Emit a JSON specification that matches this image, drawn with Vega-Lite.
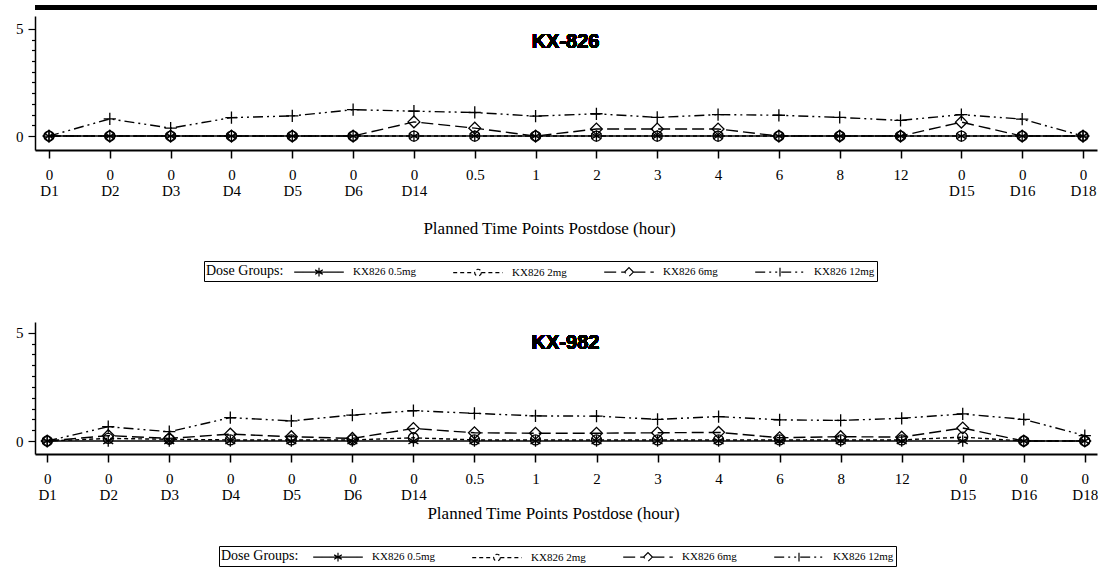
{
  "$schema": "https://vega.github.io/schema/vega-lite/v6.json",
  "background": "white",
  "padding": {"left": 0, "top": 5, "right": 0, "bottom": 0},
  "spacing": 40,
  "data": {
    "values": [
      {"p": "KX-826", "g": "KX826 0.5mg", "t": "0|D1", "v": 0},
      {"p": "KX-826", "g": "KX826 0.5mg", "t": "0|D2", "v": 0},
      {"p": "KX-826", "g": "KX826 0.5mg", "t": "0|D3", "v": 0},
      {"p": "KX-826", "g": "KX826 0.5mg", "t": "0|D4", "v": 0},
      {"p": "KX-826", "g": "KX826 0.5mg", "t": "0|D5", "v": 0},
      {"p": "KX-826", "g": "KX826 0.5mg", "t": "0|D6", "v": 0},
      {"p": "KX-826", "g": "KX826 0.5mg", "t": "0|D14", "v": 0},
      {"p": "KX-826", "g": "KX826 0.5mg", "t": "0.5", "v": 0},
      {"p": "KX-826", "g": "KX826 0.5mg", "t": "1", "v": 0},
      {"p": "KX-826", "g": "KX826 0.5mg", "t": "2", "v": 0},
      {"p": "KX-826", "g": "KX826 0.5mg", "t": "3", "v": 0},
      {"p": "KX-826", "g": "KX826 0.5mg", "t": "4", "v": 0},
      {"p": "KX-826", "g": "KX826 0.5mg", "t": "6", "v": 0},
      {"p": "KX-826", "g": "KX826 0.5mg", "t": "8", "v": 0},
      {"p": "KX-826", "g": "KX826 0.5mg", "t": "12", "v": 0},
      {"p": "KX-826", "g": "KX826 0.5mg", "t": "0|D15", "v": 0},
      {"p": "KX-826", "g": "KX826 0.5mg", "t": "0|D16", "v": 0},
      {"p": "KX-826", "g": "KX826 0.5mg", "t": "0|D18", "v": 0},
      {"p": "KX-826", "g": "KX826 2mg", "t": "0|D1", "v": 0},
      {"p": "KX-826", "g": "KX826 2mg", "t": "0|D2", "v": 0},
      {"p": "KX-826", "g": "KX826 2mg", "t": "0|D3", "v": 0},
      {"p": "KX-826", "g": "KX826 2mg", "t": "0|D4", "v": 0},
      {"p": "KX-826", "g": "KX826 2mg", "t": "0|D5", "v": 0},
      {"p": "KX-826", "g": "KX826 2mg", "t": "0|D6", "v": 0},
      {"p": "KX-826", "g": "KX826 2mg", "t": "0|D14", "v": 0},
      {"p": "KX-826", "g": "KX826 2mg", "t": "0.5", "v": 0},
      {"p": "KX-826", "g": "KX826 2mg", "t": "1", "v": 0},
      {"p": "KX-826", "g": "KX826 2mg", "t": "2", "v": 0},
      {"p": "KX-826", "g": "KX826 2mg", "t": "3", "v": 0},
      {"p": "KX-826", "g": "KX826 2mg", "t": "4", "v": 0},
      {"p": "KX-826", "g": "KX826 2mg", "t": "6", "v": 0},
      {"p": "KX-826", "g": "KX826 2mg", "t": "8", "v": 0},
      {"p": "KX-826", "g": "KX826 2mg", "t": "12", "v": 0},
      {"p": "KX-826", "g": "KX826 2mg", "t": "0|D15", "v": 0},
      {"p": "KX-826", "g": "KX826 2mg", "t": "0|D16", "v": 0},
      {"p": "KX-826", "g": "KX826 2mg", "t": "0|D18", "v": 0},
      {"p": "KX-826", "g": "KX826 6mg", "t": "0|D1", "v": 0},
      {"p": "KX-826", "g": "KX826 6mg", "t": "0|D2", "v": 0},
      {"p": "KX-826", "g": "KX826 6mg", "t": "0|D3", "v": 0},
      {"p": "KX-826", "g": "KX826 6mg", "t": "0|D4", "v": 0},
      {"p": "KX-826", "g": "KX826 6mg", "t": "0|D5", "v": 0},
      {"p": "KX-826", "g": "KX826 6mg", "t": "0|D6", "v": 0},
      {"p": "KX-826", "g": "KX826 6mg", "t": "0|D14", "v": 0.66},
      {"p": "KX-826", "g": "KX826 6mg", "t": "0.5", "v": 0.37},
      {"p": "KX-826", "g": "KX826 6mg", "t": "1", "v": 0},
      {"p": "KX-826", "g": "KX826 6mg", "t": "2", "v": 0.33},
      {"p": "KX-826", "g": "KX826 6mg", "t": "3", "v": 0.33},
      {"p": "KX-826", "g": "KX826 6mg", "t": "4", "v": 0.33},
      {"p": "KX-826", "g": "KX826 6mg", "t": "6", "v": 0},
      {"p": "KX-826", "g": "KX826 6mg", "t": "8", "v": 0},
      {"p": "KX-826", "g": "KX826 6mg", "t": "12", "v": 0},
      {"p": "KX-826", "g": "KX826 6mg", "t": "0|D15", "v": 0.65},
      {"p": "KX-826", "g": "KX826 6mg", "t": "0|D16", "v": 0},
      {"p": "KX-826", "g": "KX826 6mg", "t": "0|D18", "v": 0},
      {"p": "KX-826", "g": "KX826 12mg", "t": "0|D1", "v": 0},
      {"p": "KX-826", "g": "KX826 12mg", "t": "0|D2", "v": 0.8},
      {"p": "KX-826", "g": "KX826 12mg", "t": "0|D3", "v": 0.37},
      {"p": "KX-826", "g": "KX826 12mg", "t": "0|D4", "v": 0.86},
      {"p": "KX-826", "g": "KX826 12mg", "t": "0|D5", "v": 0.94},
      {"p": "KX-826", "g": "KX826 12mg", "t": "0|D6", "v": 1.23},
      {"p": "KX-826", "g": "KX826 12mg", "t": "0|D14", "v": 1.16},
      {"p": "KX-826", "g": "KX826 12mg", "t": "0.5", "v": 1.1},
      {"p": "KX-826", "g": "KX826 12mg", "t": "1", "v": 0.93},
      {"p": "KX-826", "g": "KX826 12mg", "t": "2", "v": 1.04},
      {"p": "KX-826", "g": "KX826 12mg", "t": "3", "v": 0.87},
      {"p": "KX-826", "g": "KX826 12mg", "t": "4", "v": 1.0},
      {"p": "KX-826", "g": "KX826 12mg", "t": "6", "v": 0.97},
      {"p": "KX-826", "g": "KX826 12mg", "t": "8", "v": 0.87},
      {"p": "KX-826", "g": "KX826 12mg", "t": "12", "v": 0.73},
      {"p": "KX-826", "g": "KX826 12mg", "t": "0|D15", "v": 1.0},
      {"p": "KX-826", "g": "KX826 12mg", "t": "0|D16", "v": 0.79},
      {"p": "KX-826", "g": "KX826 12mg", "t": "0|D18", "v": 0},
      {"p": "KX-982", "g": "KX826 0.5mg", "t": "0|D1", "v": 0},
      {"p": "KX-982", "g": "KX826 0.5mg", "t": "0|D2", "v": 0},
      {"p": "KX-982", "g": "KX826 0.5mg", "t": "0|D3", "v": 0},
      {"p": "KX-982", "g": "KX826 0.5mg", "t": "0|D4", "v": 0},
      {"p": "KX-982", "g": "KX826 0.5mg", "t": "0|D5", "v": 0},
      {"p": "KX-982", "g": "KX826 0.5mg", "t": "0|D6", "v": 0},
      {"p": "KX-982", "g": "KX826 0.5mg", "t": "0|D14", "v": 0},
      {"p": "KX-982", "g": "KX826 0.5mg", "t": "0.5", "v": 0},
      {"p": "KX-982", "g": "KX826 0.5mg", "t": "1", "v": 0},
      {"p": "KX-982", "g": "KX826 0.5mg", "t": "2", "v": 0},
      {"p": "KX-982", "g": "KX826 0.5mg", "t": "3", "v": 0},
      {"p": "KX-982", "g": "KX826 0.5mg", "t": "4", "v": 0},
      {"p": "KX-982", "g": "KX826 0.5mg", "t": "6", "v": 0},
      {"p": "KX-982", "g": "KX826 0.5mg", "t": "8", "v": 0},
      {"p": "KX-982", "g": "KX826 0.5mg", "t": "12", "v": 0},
      {"p": "KX-982", "g": "KX826 0.5mg", "t": "0|D15", "v": 0},
      {"p": "KX-982", "g": "KX826 0.5mg", "t": "0|D16", "v": 0},
      {"p": "KX-982", "g": "KX826 0.5mg", "t": "0|D18", "v": 0},
      {"p": "KX-982", "g": "KX826 2mg", "t": "0|D1", "v": 0},
      {"p": "KX-982", "g": "KX826 2mg", "t": "0|D2", "v": 0.12},
      {"p": "KX-982", "g": "KX826 2mg", "t": "0|D3", "v": 0.08},
      {"p": "KX-982", "g": "KX826 2mg", "t": "0|D4", "v": 0.05},
      {"p": "KX-982", "g": "KX826 2mg", "t": "0|D5", "v": 0.05},
      {"p": "KX-982", "g": "KX826 2mg", "t": "0|D6", "v": 0.05},
      {"p": "KX-982", "g": "KX826 2mg", "t": "0|D14", "v": 0.15},
      {"p": "KX-982", "g": "KX826 2mg", "t": "0.5", "v": 0.05},
      {"p": "KX-982", "g": "KX826 2mg", "t": "1", "v": 0.05},
      {"p": "KX-982", "g": "KX826 2mg", "t": "2", "v": 0.05},
      {"p": "KX-982", "g": "KX826 2mg", "t": "3", "v": 0.05},
      {"p": "KX-982", "g": "KX826 2mg", "t": "4", "v": 0.05},
      {"p": "KX-982", "g": "KX826 2mg", "t": "6", "v": 0.05},
      {"p": "KX-982", "g": "KX826 2mg", "t": "8", "v": 0.05},
      {"p": "KX-982", "g": "KX826 2mg", "t": "12", "v": 0.05},
      {"p": "KX-982", "g": "KX826 2mg", "t": "0|D15", "v": 0.18},
      {"p": "KX-982", "g": "KX826 2mg", "t": "0|D16", "v": 0},
      {"p": "KX-982", "g": "KX826 2mg", "t": "0|D18", "v": 0},
      {"p": "KX-982", "g": "KX826 6mg", "t": "0|D1", "v": 0},
      {"p": "KX-982", "g": "KX826 6mg", "t": "0|D2", "v": 0.25},
      {"p": "KX-982", "g": "KX826 6mg", "t": "0|D3", "v": 0.12},
      {"p": "KX-982", "g": "KX826 6mg", "t": "0|D4", "v": 0.32},
      {"p": "KX-982", "g": "KX826 6mg", "t": "0|D5", "v": 0.2},
      {"p": "KX-982", "g": "KX826 6mg", "t": "0|D6", "v": 0.12},
      {"p": "KX-982", "g": "KX826 6mg", "t": "0|D14", "v": 0.58},
      {"p": "KX-982", "g": "KX826 6mg", "t": "0.5", "v": 0.38},
      {"p": "KX-982", "g": "KX826 6mg", "t": "1", "v": 0.36},
      {"p": "KX-982", "g": "KX826 6mg", "t": "2", "v": 0.36},
      {"p": "KX-982", "g": "KX826 6mg", "t": "3", "v": 0.38},
      {"p": "KX-982", "g": "KX826 6mg", "t": "4", "v": 0.4},
      {"p": "KX-982", "g": "KX826 6mg", "t": "6", "v": 0.15},
      {"p": "KX-982", "g": "KX826 6mg", "t": "8", "v": 0.2},
      {"p": "KX-982", "g": "KX826 6mg", "t": "12", "v": 0.18},
      {"p": "KX-982", "g": "KX826 6mg", "t": "0|D15", "v": 0.6},
      {"p": "KX-982", "g": "KX826 6mg", "t": "0|D16", "v": 0},
      {"p": "KX-982", "g": "KX826 6mg", "t": "0|D18", "v": 0},
      {"p": "KX-982", "g": "KX826 12mg", "t": "0|D1", "v": 0},
      {"p": "KX-982", "g": "KX826 12mg", "t": "0|D2", "v": 0.66},
      {"p": "KX-982", "g": "KX826 12mg", "t": "0|D3", "v": 0.43},
      {"p": "KX-982", "g": "KX826 12mg", "t": "0|D4", "v": 1.08},
      {"p": "KX-982", "g": "KX826 12mg", "t": "0|D5", "v": 0.93},
      {"p": "KX-982", "g": "KX826 12mg", "t": "0|D6", "v": 1.2},
      {"p": "KX-982", "g": "KX826 12mg", "t": "0|D14", "v": 1.4},
      {"p": "KX-982", "g": "KX826 12mg", "t": "0.5", "v": 1.28},
      {"p": "KX-982", "g": "KX826 12mg", "t": "1", "v": 1.16},
      {"p": "KX-982", "g": "KX826 12mg", "t": "2", "v": 1.15},
      {"p": "KX-982", "g": "KX826 12mg", "t": "3", "v": 1.0},
      {"p": "KX-982", "g": "KX826 12mg", "t": "4", "v": 1.13},
      {"p": "KX-982", "g": "KX826 12mg", "t": "6", "v": 0.98},
      {"p": "KX-982", "g": "KX826 12mg", "t": "8", "v": 0.95},
      {"p": "KX-982", "g": "KX826 12mg", "t": "12", "v": 1.05},
      {"p": "KX-982", "g": "KX826 12mg", "t": "0|D15", "v": 1.25},
      {"p": "KX-982", "g": "KX826 12mg", "t": "0|D16", "v": 1.0},
      {"p": "KX-982", "g": "KX826 12mg", "t": "0|D18", "v": 0.25}
    ]
  },
  "vconcat": [
    {
      "width": 1062,
      "height": 134,
      "transform": [{"filter": "datum.p === 'KX-826'"}],
      "layer": [
        {
          "encoding": {
            "x": {"field": "t", "type": "ordinal", "sort": null,
              "scale": {"type": "point", "padding": 0.23, "domain": ["0|D1","0|D2","0|D3","0|D4","0|D5","0|D6","0|D14","0.5","1","2","3","4","6","8","12","0|D15","0|D16","0|D18"]},
              "axis": {"title": "Planned Time Points Postdose (hour)", "labelExpr": "split(datum.value, '|')", "labelAngle": 0, "labelFont": "Liberation Serif", "labelFontSize": 15, "labelLineHeight": 16, "labelPadding": 9, "tickSize": 8, "tickWidth": 1.5, "domainWidth": 2, "titleFont": "Liberation Serif", "titleFontSize": 17, "titleFontWeight": "normal", "titlePadding": 22, "titleX": 514}},
            "y": {"field": "v", "type": "quantitative",
              "scale": {"domain": [-0.65, 5.6], "nice": false, "zero": false},
              "axis": {"title": null, "values": [0,0.5,1,1.5,2,2.5,3,3.5,4,4.5,5], "labelExpr": "datum.value % 5 === 0 ? format(datum.value, 'd') : ''", "tickSize": {"condition": {"test": "datum.value % 5 === 0", "value": 7}, "value": 3.5}, "labelFont": "Liberation Serif", "labelFontSize": 15, "labelPadding": 5, "domainWidth": 1.5, "tickWidth": 1.2, "minExtent": 35, "maxExtent": 35}}
          },
          "layer": [
            {
              "mark": {"type": "line", "color": "black", "strokeWidth": 1.4},
              "encoding": {
                "strokeDash": {"field": "g", "type": "nominal",
                  "scale": {"domain": ["KX826 0.5mg", "KX826 2mg", "KX826 6mg", "KX826 12mg"], "range": [[1, 0], [4, 3], [12, 5], [10, 4, 2, 4, 2, 4]]},
                  "legend": {"title": "Dose Groups:", "orient": "none", "legendX": 169, "legendY": 245, "direction": "horizontal", "titleOrient": "left", "titleAnchor": "middle", "titleFont": "Liberation Serif", "titleFontSize": 14, "titleFontWeight": "normal", "titleColor": "black", "titlePadding": 26, "labelFont": "Liberation Serif", "labelFontSize": 11, "labelColor": "black", "strokeColor": "black", "padding": 2, "columnPadding": 34, "symbolSize": 256, "labelOffset": 25, "symbolStrokeWidth": 1.2, "symbolStrokeColor": "black"}}
              }
            },
            {
              "transform": [{"filter": "false"}],
              "mark": {"type": "point", "filled": false, "color": "black", "strokeWidth": 1.2, "opacity": 1},
              "encoding": {
                "shape": {"field": "g", "type": "nominal",
                  "scale": {"domain": ["KX826 0.5mg", "KX826 2mg", "KX826 6mg", "KX826 12mg"], "range": ["M-3.1,0H3.1M0,-0.55V0.55M-0.48,-0.28L0.48,0.28M-0.48,0.28L0.48,-0.28", "M-3.1,0H-0.42M0.42,0H3.1M0.42,0A0.42,0.42 0 1 1 -0.42,0A0.42,0.42 0 1 1 0.42,0", "M-3.1,0H-0.55M0.55,0H3.1M0,-0.55L0.55,0L0,0.55L-0.55,0Z", "M-3.1,0H3.1M0,-0.55V0.55"]},
                  "legend": {"title": "Dose Groups:", "orient": "none", "legendX": 169, "legendY": 245, "direction": "horizontal", "titleOrient": "left", "titleAnchor": "middle", "titleFont": "Liberation Serif", "titleFontSize": 14, "titleFontWeight": "normal", "titleColor": "black", "titlePadding": 26, "labelFont": "Liberation Serif", "labelFontSize": 11, "labelColor": "black", "strokeColor": "black", "padding": 2, "columnPadding": 34, "symbolSize": 256, "labelOffset": 25, "symbolStrokeWidth": 1.2, "symbolStrokeColor": "black"}}
              }
            },
            {"transform": [{"filter": "datum.g === 'KX826 0.5mg'"}], "mark": {"type": "point", "filled": false, "color": "black", "size": 130, "strokeWidth": 1.3, "opacity": 1, "shape": "M0,-1V1M-0.87,-0.5L0.87,0.5M-0.87,0.5L0.87,-0.5"}},
            {"transform": [{"filter": "datum.g === 'KX826 2mg'"}], "mark": {"type": "point", "filled": false, "color": "black", "size": 100, "strokeWidth": 1.3, "opacity": 1, "shape": "circle"}},
            {"transform": [{"filter": "datum.g === 'KX826 6mg'"}], "mark": {"type": "point", "filled": false, "color": "black", "size": 140, "strokeWidth": 1.3, "opacity": 1, "shape": "diamond"}},
            {"transform": [{"filter": "datum.g === 'KX826 12mg'"}], "mark": {"type": "point", "filled": false, "color": "black", "size": 150, "strokeWidth": 1.3, "opacity": 1, "shape": "M-1,0H1M0,-1V1"}},
            {"mark": {"type": "text", "text": "KX-826", "font": "Liberation Sans", "fontSize": 20, "fontWeight": "bold", "color": "black", "dx": 30, "baseline": "middle"},
             "encoding": {"x": {"datum": "1"}, "y": {"datum": 4.4}}}
          ]
        },
        {
          "mark": {"type": "rule", "color": "black", "strokeWidth": 4},
          "encoding": {"y": {"datum": 6.0, "type": "quantitative",
            "axis": {"title": null, "values": [0,0.5,1,1.5,2,2.5,3,3.5,4,4.5,5], "labelExpr": "datum.value % 5 === 0 ? format(datum.value, 'd') : ''", "tickSize": {"condition": {"test": "datum.value % 5 === 0", "value": 7}, "value": 3.5}, "labelFont": "Liberation Serif", "labelFontSize": 15, "labelPadding": 5, "domainWidth": 1.5, "tickWidth": 1.2, "minExtent": 35, "maxExtent": 35}}}
        }
      ]
    },
    {
      "width": 1062,
      "height": 132,
      "transform": [{"filter": "datum.p === 'KX-982'"}],
      "encoding": {
        "x": {"field": "t", "type": "ordinal", "sort": null,
          "scale": {"type": "point", "padding": 0.2, "domain": ["0|D1","0|D2","0|D3","0|D4","0|D5","0|D6","0|D14","0.5","1","2","3","4","6","8","12","0|D15","0|D16","0|D18"]},
          "axis": {"title": "Planned Time Points Postdose (hour)", "labelExpr": "split(datum.value, '|')", "labelAngle": 0, "labelFont": "Liberation Serif", "labelFontSize": 15, "labelLineHeight": 16, "labelPadding": 9, "tickSize": 8, "tickWidth": 1.5, "domainWidth": 2, "titleFont": "Liberation Serif", "titleFontSize": 17, "titleFontWeight": "normal", "titlePadding": 3, "titleX": 518}},
        "y": {"field": "v", "type": "quantitative",
          "scale": {"domain": [-0.6, 5.5], "nice": false, "zero": false},
          "axis": {"title": null, "values": [0,0.5,1,1.5,2,2.5,3,3.5,4,4.5,5], "labelExpr": "datum.value % 5 === 0 ? format(datum.value, 'd') : ''", "tickSize": {"condition": {"test": "datum.value % 5 === 0", "value": 7}, "value": 3.5}, "labelFont": "Liberation Serif", "labelFontSize": 15, "labelPadding": 5, "domainWidth": 1.5, "tickWidth": 1.2, "minExtent": 31, "maxExtent": 31}}
      },
      "layer": [
        {
          "mark": {"type": "line", "color": "black", "strokeWidth": 1.4},
          "encoding": {
            "strokeDash": {"field": "g", "type": "nominal",
              "scale": {"domain": ["KX826 0.5mg", "KX826 2mg", "KX826 6mg", "KX826 12mg"], "range": [[1, 0], [4, 3], [12, 5], [10, 4, 2, 4, 2, 4]]},
              "legend": {"title": "Dose Groups:", "orient": "none", "legendX": 184, "legendY": 224, "direction": "horizontal", "titleOrient": "left", "titleAnchor": "middle", "titleFont": "Liberation Serif", "titleFontSize": 14, "titleFontWeight": "normal", "titleColor": "black", "titlePadding": 30, "labelFont": "Liberation Serif", "labelFontSize": 11, "labelColor": "black", "strokeColor": "black", "padding": 2, "columnPadding": 34, "symbolSize": 256, "labelOffset": 25, "symbolStrokeWidth": 1.2, "symbolStrokeColor": "black"}}
          }
        },
        {
          "transform": [{"filter": "false"}],
          "mark": {"type": "point", "filled": false, "color": "black", "strokeWidth": 1.2, "opacity": 1},
          "encoding": {
            "shape": {"field": "g", "type": "nominal",
              "scale": {"domain": ["KX826 0.5mg", "KX826 2mg", "KX826 6mg", "KX826 12mg"], "range": ["M-3.1,0H3.1M0,-0.55V0.55M-0.48,-0.28L0.48,0.28M-0.48,0.28L0.48,-0.28", "M-3.1,0H-0.42M0.42,0H3.1M0.42,0A0.42,0.42 0 1 1 -0.42,0A0.42,0.42 0 1 1 0.42,0", "M-3.1,0H-0.55M0.55,0H3.1M0,-0.55L0.55,0L0,0.55L-0.55,0Z", "M-3.1,0H3.1M0,-0.55V0.55"]},
              "legend": {"title": "Dose Groups:", "orient": "none", "legendX": 184, "legendY": 224, "direction": "horizontal", "titleOrient": "left", "titleAnchor": "middle", "titleFont": "Liberation Serif", "titleFontSize": 14, "titleFontWeight": "normal", "titleColor": "black", "titlePadding": 30, "labelFont": "Liberation Serif", "labelFontSize": 11, "labelColor": "black", "strokeColor": "black", "padding": 2, "columnPadding": 34, "symbolSize": 256, "labelOffset": 25, "symbolStrokeWidth": 1.2, "symbolStrokeColor": "black"}}
          }
        },
        {"transform": [{"filter": "datum.g === 'KX826 0.5mg'"}], "mark": {"type": "point", "filled": false, "color": "black", "size": 130, "strokeWidth": 1.3, "opacity": 1, "shape": "M0,-1V1M-0.87,-0.5L0.87,0.5M-0.87,0.5L0.87,-0.5"}},
        {"transform": [{"filter": "datum.g === 'KX826 2mg'"}], "mark": {"type": "point", "filled": false, "color": "black", "size": 100, "strokeWidth": 1.3, "opacity": 1, "shape": "circle"}},
        {"transform": [{"filter": "datum.g === 'KX826 6mg'"}], "mark": {"type": "point", "filled": false, "color": "black", "size": 140, "strokeWidth": 1.3, "opacity": 1, "shape": "diamond"}},
        {"transform": [{"filter": "datum.g === 'KX826 12mg'"}], "mark": {"type": "point", "filled": false, "color": "black", "size": 150, "strokeWidth": 1.3, "opacity": 1, "shape": "M-1,0H1M0,-1V1"}},
        {"mark": {"type": "text", "text": "KX-982", "font": "Liberation Sans", "fontSize": 20, "fontWeight": "bold", "color": "black", "dx": 30, "baseline": "middle"},
         "encoding": {"x": {"datum": "1"}, "y": {"datum": 4.55}}}
      ]
    }
  ],
  "resolve": {
    "scale": {"x": "independent", "y": "independent", "strokeDash": "independent", "shape": "independent"},
    "legend": {"strokeDash": "independent", "shape": "independent"}
  },
  "config": {
    "view": {"stroke": null},
    "axis": {"grid": false, "domainColor": "black", "tickColor": "black", "labelColor": "black", "titleColor": "black"}
  }
}
